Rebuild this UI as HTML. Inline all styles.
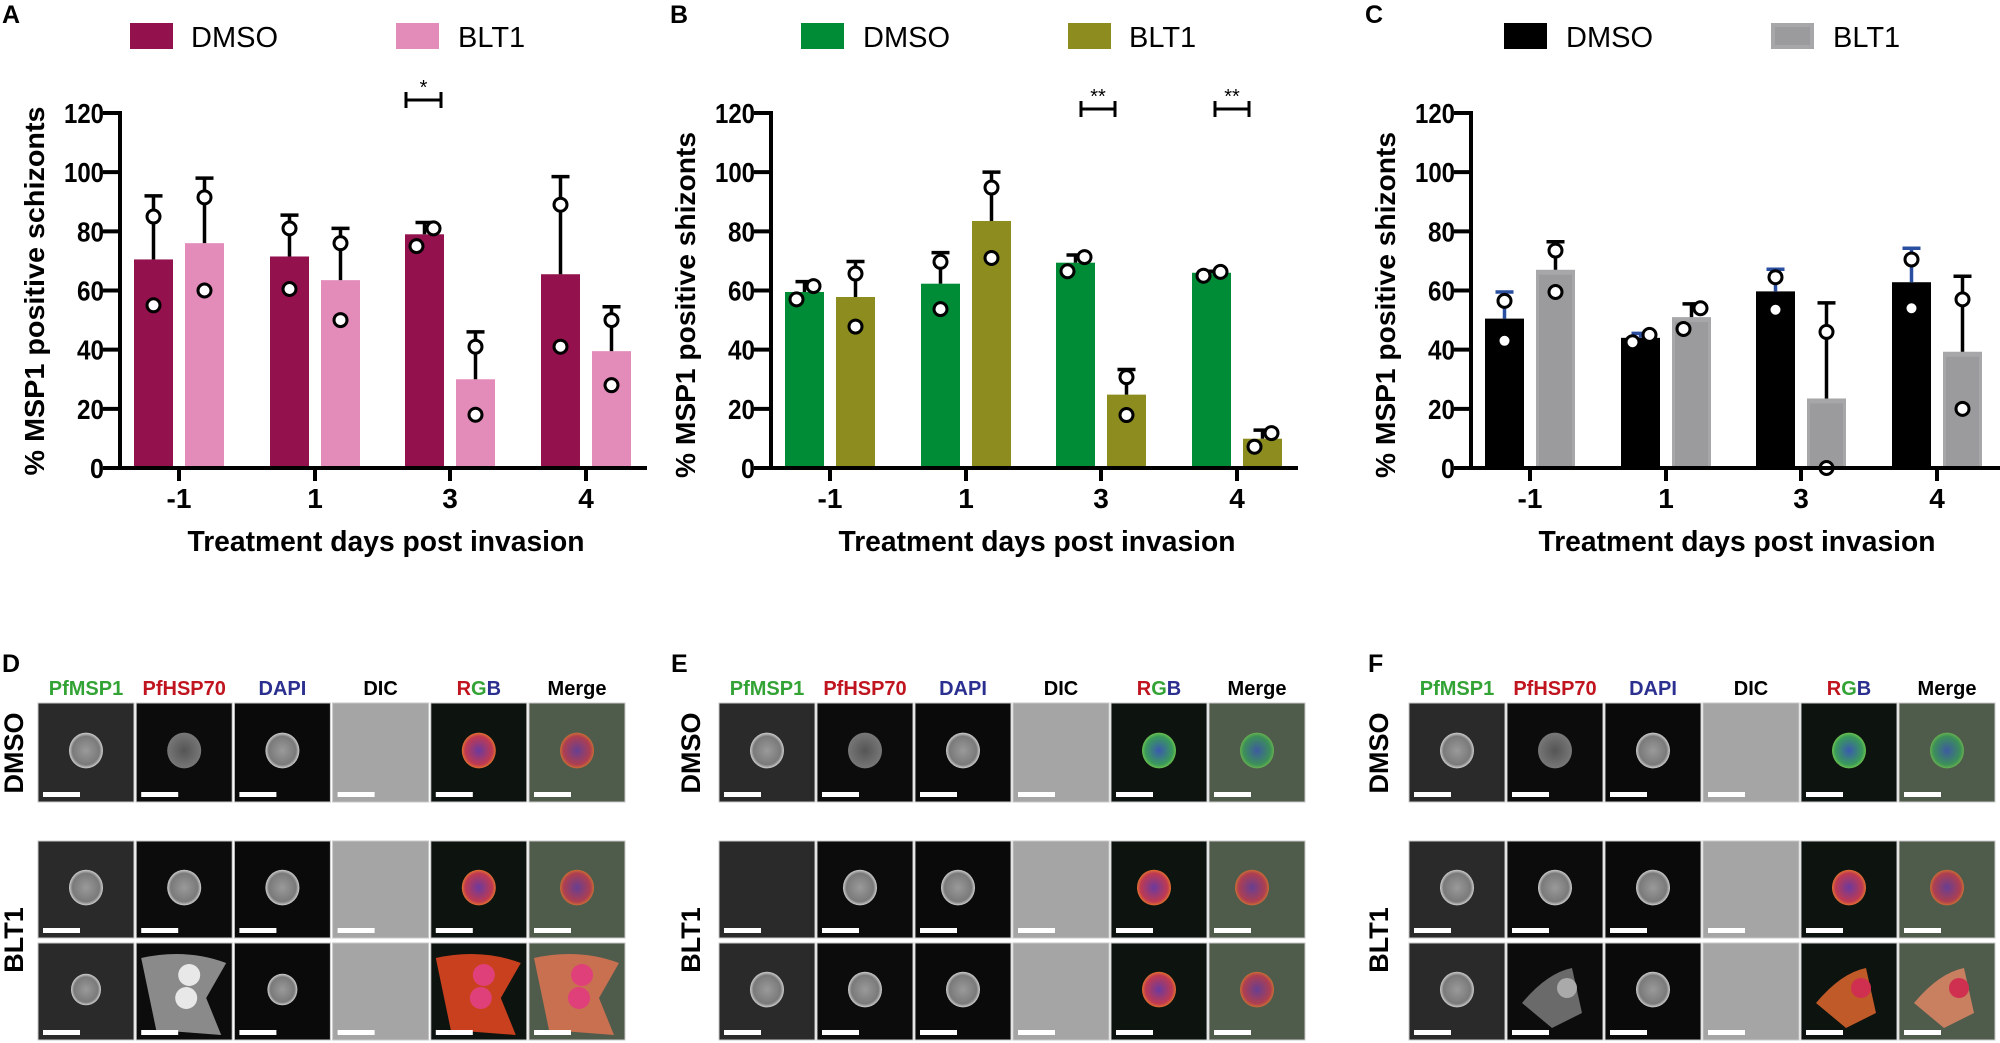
<!DOCTYPE html>
<html><head><meta charset="utf-8">
<style>
html,body{margin:0;padding:0;background:#fff;width:2000px;height:1043px;overflow:hidden}
svg{display:block;font-family:"Liberation Sans",Arial,sans-serif}
</style></head>
<body>
<svg id="s" xmlns="http://www.w3.org/2000/svg" width="2000" height="1043" viewBox="0 0 2000 1043">
<defs>
<radialGradient id="gcell"><stop offset="0" stop-color="#9a9a9a"/><stop offset="0.8" stop-color="#7a7a7a"/><stop offset="1" stop-color="#cfcfcf"/></radialGradient>
<radialGradient id="gbright"><stop offset="0" stop-color="#c8c8c8"/><stop offset="1" stop-color="#e0e0e0"/></radialGradient>
<radialGradient id="gdim"><stop offset="0" stop-color="#555"/><stop offset="1" stop-color="#777"/></radialGradient>
<radialGradient id="gred"><stop offset="0" stop-color="#6a3aa0"/><stop offset="0.8" stop-color="#c03a50"/><stop offset="1" stop-color="#e07030"/></radialGradient>
<radialGradient id="ggreen"><stop offset="0" stop-color="#3a5ab0"/><stop offset="0.8" stop-color="#3a9a5a"/><stop offset="1" stop-color="#6ac050"/></radialGradient>
<radialGradient id="gpink"><stop offset="0" stop-color="#e03a80"/><stop offset="1" stop-color="#c0304a"/></radialGradient>
</defs>
</svg>
<script>
var s=document.getElementById('s');var NS='http://www.w3.org/2000/svg';
function el(t,a,txt){var e=document.createElementNS(NS,t);for(var k in a)e.setAttribute(k,a[k]);if(txt!==undefined)e.textContent=txt;s.appendChild(e);return e;}
var Y0=468,SC=355/120;function yv(v){return Y0-v*SC;}
function chart(o){
 var ax=o.ax;
 // bars
 var offs=[59,195,330,466];
 o.data.forEach(function(g,i){
  var c=ax+offs[i];
  [[c-45,g[0],o.c1,o.e1],[c+6,g[1],o.c2,'#000']].forEach(function(b){
   var d=b[1],x=b[0],cx=x+19.5;
   el('rect',{x:x,y:yv(d[0]),width:39,height:Y0-yv(d[0]),fill:b[2]});
   if(o.inner&&b[2]==o.c2)el('rect',{x:x+3,y:yv(d[0])+5,width:33,height:Y0-yv(d[0])-5,fill:'#9b9b9d'});
   el('line',{x1:cx,y1:yv(d[0]),x2:cx,y2:yv(d[1]),stroke:b[3],'stroke-width':3.5});
   el('line',{x1:cx-9,y1:yv(d[1]),x2:cx+9,y2:yv(d[1]),stroke:b[3],'stroke-width':3.5});
   d[2].forEach(function(p){el('circle',{cx:cx+p[0],cy:yv(p[1]),r:6.5,fill:'#fff',stroke:'#000','stroke-width':3});});
  });
  el('line',{x1:c,y1:Y0,x2:c,y2:481,stroke:'#000','stroke-width':4});
  el('text',{x:c,y:508,'text-anchor':'middle','font-size':28,'font-weight':'bold'},o.xl[i]);
 });
 // axes
 el('line',{x1:ax,y1:yv(120)-2,x2:ax,y2:Y0+2,stroke:'#000','stroke-width':4});
 el('line',{x1:ax-2,y1:Y0,x2:o.xe,y2:Y0,stroke:'#000','stroke-width':4});
 for(var v=0;v<=120;v+=20){
  el('line',{x1:ax-17,y1:yv(v),x2:ax,y2:yv(v),stroke:'#000','stroke-width':4});
  el('text',{x:ax-16,y:yv(v)+10,'text-anchor':'end','font-size':28,'font-weight':'bold',textLength:(v>=100?40:v>0?27:14),lengthAdjust:'spacingAndGlyphs'},''+v);
 }
 el('text',{x:ax+266,y:551,'text-anchor':'middle','font-size':29,'font-weight':'bold',textLength:397,lengthAdjust:'spacingAndGlyphs'},'Treatment days post invasion');
 var yl=el('text',{x:0,y:0,'text-anchor':'middle','font-size':28,'font-weight':'bold',textLength:o.ylen,lengthAdjust:'spacingAndGlyphs',transform:'translate('+(ax-76)+','+o.ycy+') rotate(-90)'},o.ylab);
 // legend
 el('rect',{x:o.l[0],y:23,width:43,height:26,fill:o.c1});
 el('text',{x:o.l[1],y:47,'font-size':29},'DMSO');
 el('rect',{x:o.l[2],y:23,width:43,height:26,fill:o.c2});
 if(o.inner)el('rect',{x:o.l[2]+4,y:27,width:35,height:18,fill:'#9b9b9d'});
 el('text',{x:o.l[3],y:47,'font-size':29},'BLT1');
 el('text',{x:o.lx,y:23,'font-size':25,'font-weight':'bold'},o.letter);
}
function sig(x1,x2,y,t){
 el('line',{x1:x1,y1:y,x2:x2,y2:y,stroke:'#000','stroke-width':3});
 el('line',{x1:x1,y1:y-8,x2:x1,y2:y+8,stroke:'#000','stroke-width':3});
 el('line',{x1:x2,y1:y-8,x2:x2,y2:y+8,stroke:'#000','stroke-width':3});
 el('text',{x:(x1+x2)/2,y:y-6,'text-anchor':'middle','font-size':20},t);
}
var XL=['-1','1','3','4'];
chart({ax:120,xe:647,c1:'#93124e',c2:'#e38cba',e1:'#000',letter:'A',lx:2,l:[130,191,396,458],
 ylab:'% MSP1 positive schizonts',ylen:369,ycy:291,xl:XL,
 data:[[[70.5,92,[[0,85],[0,55]]],[76,98,[[0,91.5],[0,60]]]],
       [[71.5,85.5,[[0,81],[0,60.5]]],[63.5,81,[[0,76],[0,50]]]],
       [[79,83,[[-8,75],[9,81]]],[30,46,[[0,41],[0,18]]]],
       [[65.5,98.5,[[0,89],[0,41]]],[39.5,54.5,[[0,50],[0,28]]]]]});
chart({ax:771,xe:1298,c1:'#008c36',c2:'#8c8c1f',e1:'#000',letter:'B',lx:670,l:[801,863,1068,1129],
 ylab:'% MSP1 positive shizonts',ylen:346,ycy:305,xl:XL,
 data:[[[59.5,63,[[-8,57],[9,61.5]]],[57.8,69.8,[[0,65.7],[0,47.8]]]],
       [[62.3,72.8,[[0,69.7],[0,53.7]]],[83.5,100,[[0,94.8],[0,71]]]],
       [[69.4,72,[[-8,66.5],[9,71.3]]],[24.8,33.3,[[0,30.7],[0,17.9]]]],
       [[66,66.5,[[-8,65],[9,66.3]]],[9.9,12.8,[[-8,7.2],[9,11.8]]]]]});
chart({ax:1471,xe:2000,c1:'#000000',c2:'#a7a7a9',e1:'#2a4fa0',inner:true,letter:'C',lx:1365,l:[1504,1566,1771,1833],
 ylab:'% MSP1 positive shizonts',ylen:346,ycy:305,xl:XL,
 data:[[[50.5,59.5,[[0,56.5],[0,43]]],[67,76.5,[[0,73.5],[0,59.5]]]],
       [[44,45.5,[[-8,42.5],[9,45]]],[51,55.5,[[-8,47],[9,54]]]],
       [[59.7,67.2,[[0,64.5],[0,53.5]]],[23.5,55.8,[[0,46],[0,0]]]],
       [[62.8,74.3,[[0,70.5],[0,54]]],[39.3,64.8,[[0,57],[0,20]]]]]});
sig(406,441,100,'*');
sig(1081,1115,109,'**');
sig(1215,1249,109,'**');

// image panels
var rows=[[703,99],[841,97],[943,97]];
var panels=[{x0:38,step:98.2,lx:2,rl:13,L:'D',rgb:'gred'},{x0:719,step:98,lx:671,rl:690,L:'E',rgb:'ggreen'},{x0:1409,step:98,lx:1368,rl:1378,L:'F',rgb:'ggreen'}];
var heads=[['PfMSP1','#33a336'],['PfHSP70','#c0151f'],['DAPI','#2b2f8f'],['DIC','#000'],['RGB',''],['Merge','#000']];
var bg=['#2a2a2a','#0c0c0c','#0a0a0a','#a5a5a5','#0d140f','#4f5c4c'];
panels.forEach(function(p,pi){
 el('text',{x:p.lx,y:672,'font-size':25,'font-weight':'bold'},p.L);
 el('text',{x:0,y:0,'text-anchor':'middle','font-size':27,'font-weight':'bold',transform:'translate('+(p.rl+10)+',753) rotate(-90)'},'DMSO');
 el('text',{x:0,y:0,'text-anchor':'middle','font-size':27,'font-weight':'bold',transform:'translate('+(p.rl+10)+',940) rotate(-90)'},'BLT1');
 for(var c=0;c<6;c++){
  var x=p.x0+c*p.step,w=96,cx=x+w/2;
  if(heads[c][0]=='RGB'){
   var t=el('text',{x:cx,y:695,'text-anchor':'middle','font-size':20,'font-weight':'bold'});
   [['R','#c0151f'],['G','#33a336'],['B','#2b2f8f']].forEach(function(q){var ts=document.createElementNS(NS,'tspan');ts.setAttribute('fill',q[1]);ts.textContent=q[0];t.appendChild(ts);});
  } else el('text',{x:cx,y:695,'text-anchor':'middle','font-size':20,'font-weight':'bold',fill:heads[c][1]},heads[c][0]);
  rows.forEach(function(r,ri){
   var y=r[0],h=r[1];
   el('rect',{x:x,y:y,width:w,height:h,fill:bg[c],stroke:'#c8c8c8','stroke-width':1});
   var ccx=cx+(ri==1&&pi==1?-5:0),ccy=y+h*0.48,rr=(ri==2&&pi==0)?15:17;
   if(pi==0&&ri==2&&(c==1||c==4||c==5)){
     var col=c==1?'#8a8a8a':(c==4?'#c8401e':'#c87050');
     el('path',{d:'M'+(x+5)+' '+(y+15)+' Q'+(x+50)+' '+(y+5)+' '+(x+90)+' '+(y+20)+' L'+(x+70)+' '+(y+55)+' L'+(x+85)+' '+(y+h-5)+' L'+(x+20)+' '+(y+h-10)+' Z',fill:col});
     el('circle',{cx:cx+5,cy:y+32,r:11,fill:c==1?'#e8e8e8':'#e0407a'});
     el('circle',{cx:cx+2,cy:y+55,r:11,fill:c==1?'#e8e8e8':'#e0407a'});
   } else if(pi==2&&ri==2&&(c==1||c==4||c==5)){
     var col2=c==1?'#6a6a6a':(c==4?'#c05a28':'#c88060');
     el('path',{d:'M'+(x+15)+' '+(y+60)+' Q'+(x+40)+' '+(y+30)+' '+(x+65)+' '+(y+25)+' L'+(x+75)+' '+(y+70)+' L'+(x+45)+' '+(y+85)+' Z',fill:col2});
     el('circle',{cx:x+60,cy:y+45,r:10,fill:c==1?'#aaa':'#d03050'});
   } else if(c==3){
   } else {
     var f='url(#gcell)';
     if(c==1)f=(ri==0?'url(#gdim)':'url(#gcell)');
     if(c==2)f='url(#gcell)';
     if(c==4||c==5)f='url(#'+(pi==0?'gred':(ri==0?'ggreen':'gred'))+')';
     if(pi==1&&ri==1&&c==0)f='#2a2a2a';
     el('ellipse',{cx:ccx,cy:ccy,rx:rr,ry:rr*1.05,fill:f,opacity:(c==5?0.85:1)});
   }
   el('rect',{x:x+5,y:y+h-10,width:37,height:5,fill:'#fff'});
  });
 }
});
</script>
</body></html>
